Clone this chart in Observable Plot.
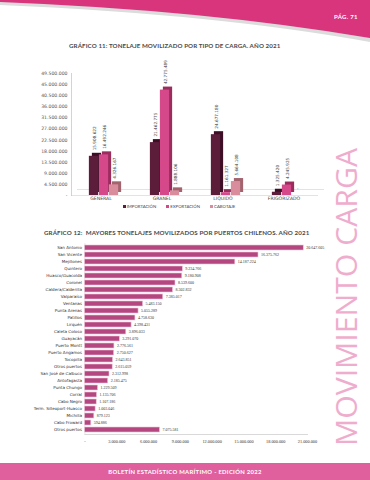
<!DOCTYPE html>
<html><head><meta charset="utf-8">
<script src="https://cdn.jsdelivr.net/npm/d3@7"></script>
<script src="https://cdn.jsdelivr.net/npm/@observablehq/plot@0.6"></script>
<style>
html,body{margin:0;padding:0;background:#fff;}
#page{position:relative;width:370px;height:480px;overflow:hidden;font-family:Lato,"DejaVu Sans",sans-serif;background:#fff;}
.abs{position:absolute;}
.abs svg{display:block;}
.title{position:absolute;font-weight:bold;font-size:6.2px;color:#4a4a4a;white-space:nowrap;letter-spacing:0.1px;}
#legend{position:absolute;top:204px;left:0;width:358px;text-align:center;font-size:4.3px;color:#444;white-space:nowrap;}
#legend span{margin:0 5px;}
#legend i{display:inline-block;width:3px;height:3px;margin-right:1px;vertical-align:middle;}
#footer{position:absolute;left:0;top:463px;width:370px;height:17px;background:#e0609e;color:#fff;font-weight:bold;font-size:5.9px;text-align:center;line-height:17px;letter-spacing:0.3px;}
#pag{position:absolute;left:334px;top:13px;color:#fff;font-weight:bold;font-size:6px;letter-spacing:0.3px;}
</style></head><body><div id="page">
<svg class="abs" style="left:0;top:0" width="370" height="50">
  <path d="M0,0 L370,0 L370,42 Q215,14 0,5 Z" fill="#dcdcdc"/>
  <path d="M0,0 L370,0 L370,38 Q205,10 0,2 Z" fill="#d8357d"/>
</svg>
<div id="pag">PÁG. 71</div>
<div class="title" style="left:69px;top:42px;">GRÁFICO 11: TONELAJE MOVILIZADO POR TIPO DE CARGA. AÑO 2021</div>
<div id="c11" class="abs" style="left:0;top:60px;"></div>
<div id="legend"></div>
<div class="title" style="left:44px;top:229px;">GRÁFICO 12:&nbsp; MAYORES TONELAJES MOVILIZADOS POR PUERTOS CHILENOS. AÑO 2021</div>
<div id="c12" class="abs" style="left:0;top:238px;"></div>
<svg class="abs" style="left:0;top:0;pointer-events:none" width="370" height="480">
  <text transform="translate(357,446) rotate(-90)" font-family="'Open Sans',Lato,sans-serif" font-size="29" fill="#efadcd" textLength="298" lengthAdjust="spacingAndGlyphs">MOVIMIENTO CARGA</text>
</svg>
<div id="footer">BOLETÍN ESTADÍSTICO MARÍTIMO - EDICIÓN 2022</div>
</div>
<script>
// ---- Chart 11 data ----
const cats11 = ["GENERAL", "GRANEL", "LIQUIDO", "FRIGORIZADO"];
const series11 = ["IMPORTACIÓN", "EXPORTACIÓN", "CABOTAJE"];
const importacion = [15908622, 21462775, 24677180, 1325420];
const exportacion = [16492246, 42775489, 1161327, 4245925];
const cabotaje = [4326167, 1888106, 5664108, 0];
const yTicks11 = [0, 4500000, 9000000, 13500000, 18000000, 22500000, 27000000, 31500000, 36000000, 40500000, 45000000, 49500000];

// ---- Chart 12 data ----
const ports = ["San Antonio", "San Vicente", "Mejillones", "Quintero", "Huasco/Guacolda", "Coronel",
  "Caldera/Calderilla", "Valparaíso", "Ventanas", "Punta Arenas", "Patillos", "Lirquén", "Caleta Coloso",
  "Guayacán", "Puerto Montt", "Puerto Angamos", "Tocopilla", "Otros puertos", "San José de Calbuco",
  "Antofagasta", "Punta Chungo", "Corral", "Cabo Negro", "Term. Sillexport-Huasco", "Michilla",
  "Cabo Froward", "Otros puertos"];
const tonnes = [20647605, 16375762, 14187224, 9234766, 9180908, 8539600, 8302832, 7385017, 5483150,
  5055289, 4758630, 4398431, 3896033, 3291070, 2776561, 2750627, 2643851, 2615059, 2312998, 2185475,
  1229509, 1135706, 1107186, 1003046, 879123, 594886, 7075581];
const xTicks12 = [0, 3000000, 6000000, 9000000, 12000000, 15000000, 18000000, 21000000];

const fmt = d => d === 0 ? "-" : d3.format(",")(d).replace(/,/g, ".");

const colors11 = ["#5c1d3b", "#d5488a", "#d98c9c"];
const sides11 = ["#3c0f26", "#9a2c5e", "#a3646f"];
const vals11 = [importacion, exportacion, cabotaje];
const rows11 = [];
series11.forEach((s, si) => cats11.forEach((c, ci) => rows11.push({cat: c, serie: s, si, value: vals11[si][ci]})));

const W = 370, mL = 71, mR = 52;
const step = (W - mL - mR) / cats11.length;
const bw = 10;
const inset = (step - bw) / 2;

const marks11 = [
  Plot.ruleY([0], {stroke: "#d0d0d0", strokeWidth: 0.6, dx: 6, dy: -6}),
  Plot.ruleY([0], {stroke: "#d0d0d0", strokeWidth: 0.6}),
  Plot.frame({anchor: "left", stroke: "#c8c8c8", strokeWidth: 0.8})
];
series11.forEach((s, si) => {
  const data = rows11.filter(r => r.si === si);
  const off = (si - 1) * bw;
  marks11.push(Plot.barY(data, {x: "cat", y: "value", fill: sides11[si], insetLeft: inset, insetRight: inset, dx: off + 3, dy: -3}));
  marks11.push(Plot.barY(data, {x: "cat", y: "value", fill: colors11[si], insetLeft: inset, insetRight: inset, dx: off}));
  marks11.push(Plot.text(data, {x: "cat", y: "value", text: d => fmt(d.value), rotate: -90, textAnchor: "start", dx: off + 1, dy: -6, fontSize: 4.2, fill: "#333"}));
});
marks11.push(Plot.axisY({ticks: yTicks11, tickFormat: fmt, tickSize: 0, tickPadding: 4, fontSize: 4.6, fill: "#555"}));
marks11.push(Plot.axisX({tickSize: 0, tickPadding: 1, fontSize: 4.6, fill: "#444", dx: -3}));

const chart11 = Plot.plot({
  width: W, height: 150, marginTop: 13, marginBottom: 15, marginLeft: mL, marginRight: mR,
  style: {fontFamily: "'DejaVu Sans', sans-serif", background: "transparent", overflow: "visible"},
  x: {domain: cats11, padding: 0, label: null},
  y: {domain: [0, 49500000], label: null},
  marks: marks11
});
document.getElementById("c11").append(chart11);

document.getElementById("legend").innerHTML = series11.map((s, i) =>
  `<span><i style="background:${colors11[i]}"></i>${s}</span>`).join("");

// ---- Chart 12 ----
const rows12 = ports.map((p, i) => ({i, port: p, value: tonnes[i]}));
const chart12 = Plot.plot({
  width: W, height: 212, marginTop: 5, marginBottom: 16, marginLeft: 84.5, marginRight: 63,
  style: {fontFamily: "'DejaVu Sans', sans-serif", background: "transparent", overflow: "visible"},
  x: {domain: [0, 21000000], label: null},
  y: {domain: rows12.map(d => d.i), padding: 0.28, label: null},
  marks: [
    Plot.frame({anchor: "bottom", stroke: "#cfcfcf", strokeWidth: 0.8}),
    Plot.frame({anchor: "left", stroke: "#d8d8d8", strokeWidth: 0.6}),
    Plot.barX(rows12, {x: "value", y: "i", fill: "#b4477f", stroke: "#f2c4d9", strokeWidth: 0.6}),
    Plot.text(rows12, {x: "value", y: "i", text: d => fmt(d.value), dx: 2.5, textAnchor: "start", fontSize: 4, fill: "#333", fontFamily: "'Liberation Serif', serif"}),
    Plot.axisY({tickFormat: i => ports[i], tickSize: 0, tickPadding: 3, fontSize: 4.1, fill: "#333"}),
    Plot.axisX({ticks: xTicks12, tickFormat: fmt, tickSize: 0, tickPadding: 5, fontSize: 4.3, fill: "#333", fontFamily: "'Liberation Serif', serif"})
  ]
});
document.getElementById("c12").append(chart12);
</script>
</body></html>
